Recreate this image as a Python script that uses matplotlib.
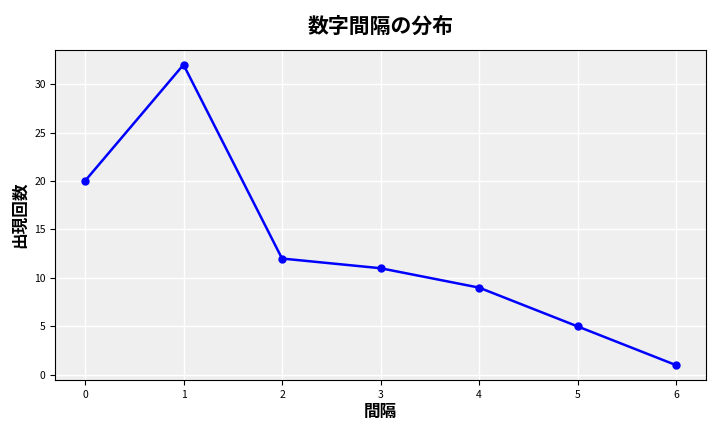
import matplotlib
matplotlib.use("Agg")
import matplotlib.pyplot as plt

plt.rcParams['font.family'] = ['Noto Sans CJK JP', 'DejaVu Sans']

gaps = [0, 1, 2, 3, 4, 5, 6]
counts = [20, 32, 12, 11, 9, 5, 1]

fig, ax = plt.subplots(figsize=(7.2, 4.32), dpi=100)
ax.set_facecolor('#efefef')
ax.grid(True, color='white', linewidth=1)
ax.set_axisbelow(True)
ax.plot(gaps, counts, color='blue', marker='o', markersize=5, linewidth=1.8)
ax.set_title('数字間隔の分布', fontsize=15, fontweight='bold', pad=12)
ax.set_xlabel('間隔', fontsize=12, fontweight='bold', labelpad=2)
ax.set_ylabel('出現回数', fontsize=12, fontweight='bold')
ax.tick_params(labelsize=7.5)
ax.set_xticks(gaps)
fig.subplots_adjust(left=0.077, right=0.98, top=0.885, bottom=0.12)
fig.savefig('out.png')
